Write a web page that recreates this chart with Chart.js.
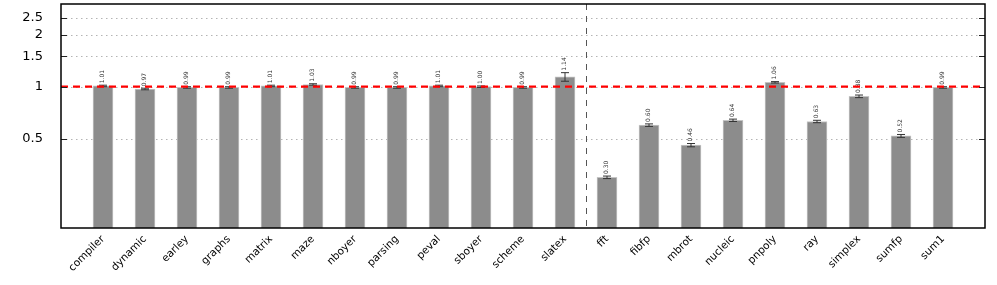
<!DOCTYPE html>
<html>
<head>
<meta charset="utf-8">
<script src="https://cdn.jsdelivr.net/npm/chart.js@4"></script>
<style>
  body { margin: 0; background: #fff; }
  #wrap { width: 997px; height: 285px; }
</style>
</head>
<body>
<div id="wrap"><canvas id="ratioChart"></canvas></div>
<script>
// benchmarks (integer group, then floating point group)
var benchmarks = ["compiler", "dynamic", "earley", "graphs", "matrix", "maze", "nboyer", "parsing",
  "peval", "sboyer", "scheme", "slatex", "fft", "fibfp", "mbrot", "nucleic", "pnpoly", "ray",
  "simplex", "sumfp", "sum1"];
var ratios = [1.01, 0.97, 0.99, 0.99, 1.01, 1.03, 0.99, 0.99, 1.01, 1.00, 0.99, 1.14,
  0.30, 0.60, 0.46, 0.64, 1.06, 0.63, 0.88, 0.52, 0.99];
var errors = [0.01, 0.01, 0.01, 0.01, 0.01, 0.01, 0.01, 0.01, 0.01, 0.01, 0.01, 0.065,
  0.005, 0.01, 0.01, 0.01, 0.01, 0.01, 0.015, 0.01, 0.01];
var yTicks = [0.5, 1, 1.5, 2, 2.5];
var splitAfter = "slatex";

// empty slots at both ends give the padding around the bars
var labels = [""].concat(benchmarks).concat([""]);
var values = [null].concat(ratios).concat([null]);

var decorations = {
  id: "decorations",
  beforeDatasetsDraw: function (chart) {
    var ctx = chart.ctx, a = chart.chartArea, y = chart.scales.y;
    ctx.save();
    // dotted grid lines
    ctx.strokeStyle = "#b4b4b4";
    ctx.lineWidth = 1;
    ctx.setLineDash([1.5, 3.5]);
    yTicks.forEach(function (t) {
      var py = Math.round(y.getPixelForValue(t)) + 0.5;
      ctx.beginPath();
      ctx.moveTo(a.left, py);
      ctx.lineTo(a.right, py);
      ctx.stroke();
    });
    ctx.restore();
  },
  afterDatasetsDraw: function (chart) {
    var ctx = chart.ctx, a = chart.chartArea, y = chart.scales.y, x = chart.scales.x;
    ctx.save();
    // error bars + value labels
    ratios.forEach(function (v, i) {
      var px = x.getPixelForValue(i + 1);
      var hi = y.getPixelForValue(v + errors[i]);
      var lo = y.getPixelForValue(v - errors[i]);
      ctx.strokeStyle = "#333";
      ctx.lineWidth = 1;
      ctx.beginPath();
      ctx.moveTo(px, hi); ctx.lineTo(px, lo);
      ctx.moveTo(px - 4, hi); ctx.lineTo(px + 4, hi);
      ctx.moveTo(px - 4, lo); ctx.lineTo(px + 4, lo);
      ctx.stroke();
      ctx.save();
      ctx.translate(px + 2, hi - 2);
      ctx.rotate(-Math.PI / 2);
      ctx.fillStyle = "#333";
      ctx.font = "6px 'DejaVu Sans'";
      ctx.textAlign = "left";
      ctx.textBaseline = "bottom";
      ctx.fillText(v.toFixed(2), 0, 0);
      ctx.restore();
    });
    // red reference line at 1
    var p1 = y.getPixelForValue(1);
    ctx.strokeStyle = "#ff0000";
    ctx.lineWidth = 2.2;
    ctx.setLineDash([7, 5]);
    ctx.beginPath();
    ctx.moveTo(a.left, p1);
    ctx.lineTo(a.right, p1);
    ctx.stroke();
    // group separator
    var sx = Math.round(x.getPixelForValue(benchmarks.indexOf(splitAfter) + 1.5)) + 0.5;
    ctx.strokeStyle = "#555";
    ctx.lineWidth = 1;
    ctx.setLineDash([6, 6]);
    ctx.beginPath();
    ctx.moveTo(sx, a.top);
    ctx.lineTo(sx, a.bottom);
    ctx.stroke();
    ctx.setLineDash([]);
    // tick marks on both sides
    ctx.strokeStyle = "#222";
    yTicks.forEach(function (t) {
      var py = Math.round(y.getPixelForValue(t)) + 0.5;
      ctx.beginPath();
      ctx.moveTo(a.left, py); ctx.lineTo(a.left + 6, py);
      ctx.moveTo(a.right - 6, py); ctx.lineTo(a.right, py);
      ctx.stroke();
    });
    // frame
    ctx.strokeStyle = "#000";
    ctx.lineWidth = 1.5;
    ctx.strokeRect(a.left, a.top, a.right - a.left, a.bottom - a.top);
    ctx.restore();
  }
};

var ctx = document.getElementById("ratioChart").getContext("2d");
new Chart(ctx, {
  type: "bar",
  data: {
    labels: labels,
    datasets: [{
      data: values,
      backgroundColor: "#8c8c8c",
      borderColor: "#c4c4c4",
      borderWidth: 1,
      barThickness: 20
    }]
  },
  options: {
    responsive: true,
    maintainAspectRatio: false,
    animation: false,
    layout: { padding: { top: 4, right: 12, left: 0, bottom: 0 } },
    plugins: { legend: { display: false }, tooltip: { enabled: false } },
    scales: {
      x: {
        offset: false,
        grid: { display: false },
        border: { display: false },
        ticks: {
          autoSkip: false,
          maxRotation: 45,
          minRotation: 45,
          color: "#000",
          padding: -3,
          font: { family: "'DejaVu Sans'", size: 10.5 }
        },
        afterFit: function (scale) {
          scale.height = 57;
          scale.paddingLeft = 0;
          scale.paddingRight = 0;
        }
      },
      y: {
        type: "logarithmic",
        min: 0.153,
        max: 3,
        grid: { display: false },
        border: { display: false },
        afterBuildTicks: function (scale) {
          scale.ticks = yTicks.map(function (v) { return { value: v }; });
        },
        ticks: {
          color: "#000",
          padding: 10,
          font: { family: "'DejaVu Sans'", size: 13 },
          callback: function (v) { return String(v); }
        },
        afterFit: function (scale) {
          scale.width = 61;
          scale.paddingTop = 0;
          scale.paddingBottom = 0;
        }
      }
    }
  },
  plugins: [decorations]
});
</script>
</body>
</html>
